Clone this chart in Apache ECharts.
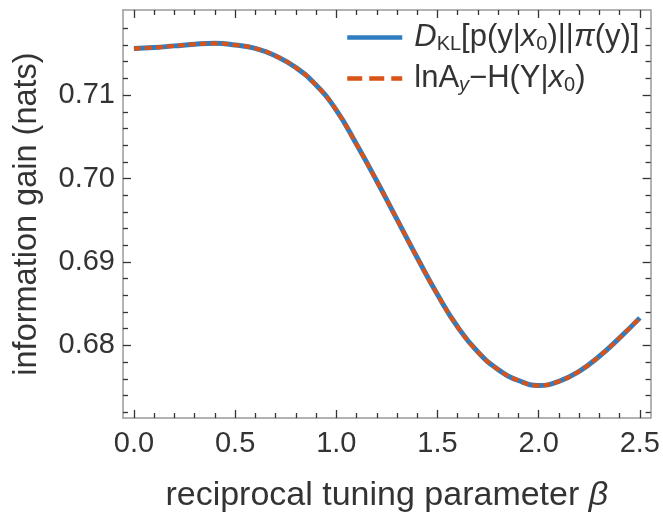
<!DOCTYPE html>
<html><head><meta charset="utf-8">
<script src="https://cdn.jsdelivr.net/npm/echarts@6/dist/echarts.min.js"></script>
<style>html,body{margin:0;padding:0;background:#fff}#c{width:663px;height:518px}</style>
</head><body><div id="c"></div>
<script>
// ---- data ----
const beta = [0.0,0.1,0.2,0.3,0.4,0.5,0.6,0.7,0.8,0.9,1.0,1.1,1.2,1.3,1.4,1.5,1.6,1.7,1.8,1.9,2.0,2.1,2.2,2.3,2.4,2.5];
const dklValues = [0.7156,0.7157,0.7159,0.7161,0.7162,0.7160,0.7156,0.7147,0.7133,0.7112,0.7082,0.7041,0.6997,0.6951,0.6905,0.6861,0.6822,0.6792,0.6771,0.6758,0.6752,0.6757,0.6769,0.6787,0.6809,0.6833];
const lnAyValues = [0.7156,0.7157,0.7159,0.7161,0.7162,0.7160,0.7156,0.7147,0.7133,0.7112,0.7082,0.7041,0.6997,0.6951,0.6905,0.6861,0.6822,0.6792,0.6771,0.6758,0.6752,0.6757,0.6769,0.6787,0.6809,0.6833];
const xMajorTicks = [0.0,0.5,1.0,1.5,2.0,2.5];
const xMinorTicks = [0.1,0.2,0.3,0.4,0.6,0.7,0.8,0.9,1.1,1.2,1.3,1.4,1.6,1.7,1.8,1.9,2.1,2.2,2.3,2.4];
const yMajorTicks = [0.68,0.69,0.70,0.71];
const yMinorTicks = [0.672,0.674,0.676,0.678,0.682,0.684,0.686,0.688,0.692,0.694,0.696,0.698,0.702,0.704,0.706,0.708,0.712,0.714,0.716,0.718];
const seriesNames = ['DKL', 'lnAy'];
const xTitle = 'reciprocal tuning parameter ';
const xTitleSymbol = 'β';
const yTitle = 'information gain (nats)';

// ---- styling ----
const FONT = 'Liberation Sans';
const TXT = '#333';
const FRAME = '#9a9a9a';
const TICK = '#333';
const BLUE = '#2E7DC1';
const ORANGE = '#D95319';
const xMin = -0.054, xMax = 2.553;
const yMin = 0.6713, yMax = 0.7202;

function xAxisDef(pos, major) {
  return {
    type: 'value', position: pos, min: xMin, max: xMax,
    axisLine: {show: major, onZero: false, lineStyle: {color: FRAME, width: 1.5}},
    axisTick: {show: true, inside: true, length: major ? 8 : 5, customValues: major ? xMajorTicks : xMinorTicks,
               lineStyle: {color: TICK, width: 1.3}},
    axisLabel: {show: major && pos === 'bottom', customValues: xMajorTicks, formatter: v => v.toFixed(1),
                fontSize: 29, fontFamily: FONT, color: TXT, margin: 11},
    splitLine: {show: false}
  };
}
function yAxisDef(pos, major) {
  return {
    type: 'value', position: pos, min: yMin, max: yMax,
    axisLine: {show: major, onZero: false, lineStyle: {color: FRAME, width: 1.5}},
    axisTick: {show: true, inside: true, length: major ? 8 : 5, customValues: major ? yMajorTicks : yMinorTicks,
               lineStyle: {color: TICK, width: 1.3}},
    axisLabel: {show: major && pos === 'left', customValues: yMajorTicks, formatter: v => v.toFixed(2),
                fontSize: 29, fontFamily: FONT, color: TXT, margin: 8},
    splitLine: {show: false}
  };
}

const xAxes = [xAxisDef('bottom', true), xAxisDef('bottom', false), xAxisDef('top', true), xAxisDef('top', false)];
const yAxes = [yAxisDef('left', true), yAxisDef('left', false), yAxisDef('right', true), yAxisDef('right', false)];
Object.assign(xAxes[0], {
  name: '{n|' + xTitle + '}{it|' + xTitleSymbol + '}', nameLocation: 'middle', nameGap: 61,
  nameTextStyle: {fontSize: 34, fontFamily: FONT, color: TXT,
    rich: {n: {fontSize: 34, fontFamily: FONT, color: TXT}, it: {fontSize: 34, fontFamily: FONT, color: TXT, fontStyle: 'italic'}}}
});
Object.assign(yAxes[0], {
  name: yTitle, nameLocation: 'middle', nameGap: 79,
  nameTextStyle: {fontSize: 32.5, fontFamily: FONT, color: TXT}
});

const legendLabels = {
  DKL: '{it|D}{sub|KL}{n|[p(y|}{it|x}{sub|0}{n|)||}{it|π}{n|(y)]}',
  lnAy: '{n|lnA}{subi|y}{n|−H(Y|}{it|x}{sub|0}{n|)}'
};

const chart = echarts.init(document.getElementById('c'), null, {renderer: 'canvas'});
chart.setOption({
  animation: false,
  backgroundColor: '#fff',
  grid: {left: 123, right: 12, top: 10, bottom: 97, containLabel: false},
  xAxis: xAxes,
  yAxis: yAxes,
  legend: {
    orient: 'vertical', left: 345, top: 21, padding: 0,
    itemWidth: 55, itemHeight: 2, itemGap: 8,
    itemStyle: {color: 'rgba(0,0,0,0)', borderWidth: 0, opacity: 0},
    data: [
      {name: seriesNames[0], lineStyle: {width: 4.5, color: BLUE}},
      {name: seriesNames[1], lineStyle: {width: 4.5, color: ORANGE, type: [15, 7]}}
    ],
    formatter: name => legendLabels[name],
    textStyle: {
      fontSize: 31, fontFamily: FONT, color: TXT, padding: [0, 0, 0, 7],
      rich: {
        n: {fontSize: 31, fontFamily: FONT, color: TXT, lineHeight: 36},
        it: {fontSize: 31, fontFamily: FONT, color: TXT, fontStyle: 'italic', lineHeight: 36},
        sub: {fontSize: 20, fontFamily: FONT, color: TXT, lineHeight: 20, padding: [13, 0, 0, 0]},
        subi: {fontSize: 20, fontFamily: FONT, color: TXT, fontStyle: 'italic', lineHeight: 20, padding: [13, 0, 0, 0]}
      }
    }
  },
  series: [
    {
      type: 'line', name: seriesNames[0], xAxisIndex: 0, yAxisIndex: 0,
      data: beta.map((b, i) => [b, dklValues[i]]),
      smooth: 0.5, symbol: 'none', showSymbol: false,
      lineStyle: {color: BLUE, width: 5}, itemStyle: {color: BLUE}
    },
    {
      type: 'line', name: seriesNames[1], xAxisIndex: 0, yAxisIndex: 0,
      data: beta.map((b, i) => [b, lnAyValues[i]]),
      smooth: 0.5, symbol: 'none', showSymbol: false,
      lineStyle: {color: ORANGE, width: 4, type: [7, 4]}, itemStyle: {color: ORANGE}
    }
  ]
});
</script>
</body></html>
